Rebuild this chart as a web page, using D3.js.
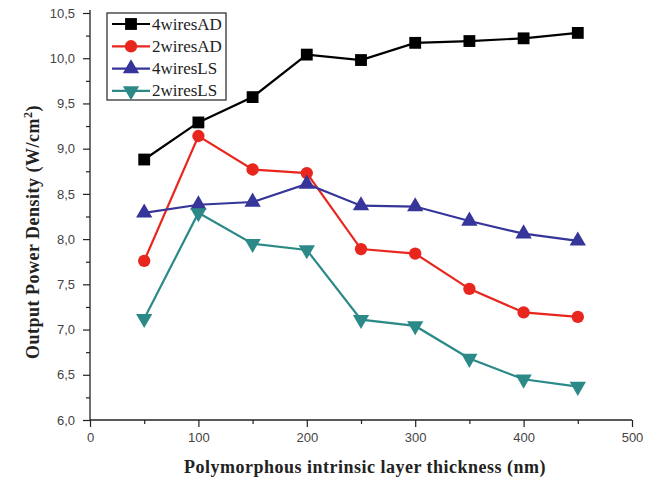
<!DOCTYPE html>
<html><head><meta charset="utf-8">
<script src="https://cdn.jsdelivr.net/npm/d3@7"></script>
<style>body{margin:0;background:#fff}svg{display:block}</style>
</head><body>
<svg id="c" width="665" height="482"></svg>
<script>
const thickness = [50, 100, 150, 200, 250, 300, 350, 400, 450];
const wires4AD = [8.88, 9.29, 9.57, 10.04, 9.98, 10.17, 10.19, 10.22, 10.28];
const wires2AD = [7.76, 9.14, 8.77, 8.73, 7.89, 7.84, 7.45, 7.19, 7.14];
const wires4LS = [8.29, 8.38, 8.41, 8.61, 8.37, 8.36, 8.20, 8.06, 7.98];
const wires2LS = [7.12, 8.29, 7.95, 7.88, 7.11, 7.04, 6.68, 6.45, 6.37];
const seriesNames = ["4wiresAD", "2wiresAD", "4wiresLS", "2wiresLS"];
const xTicks = [0, 100, 200, 300, 400, 500];
const yTicks = [6.0, 6.5, 7.0, 7.5, 8.0, 8.5, 9.0, 9.5, 10.0, 10.5];

const series = [
  {name: seriesNames[0], values: wires4AD, color: "#000000", sym: d3.symbolSquare, size: 140, rot: 0},
  {name: seriesNames[1], values: wires2AD, color: "#e8261e", sym: d3.symbolCircle, size: 120, rot: 0},
  {name: seriesNames[2], values: wires4LS, color: "#35359a", sym: d3.symbolTriangle, size: 115, rot: 0},
  {name: seriesNames[3], values: wires2LS, color: "#2b8a88", sym: d3.symbolTriangle, size: 115, rot: 180}
];

const svg = d3.select("#c");
const x = d3.scaleLinear().domain([0, 500]).range([90, 632]);
const y = d3.scaleLinear().domain([6.0, 10.5]).range([420, 13]);
const fmt = d => d3.format(".1f")(d).replace(".", ",");

// x axis
const xAxis = d3.axisBottom(x).tickValues(xTicks).tickSize(7).tickPadding(6).tickFormat(d3.format("d"));
const gx = svg.append("g").attr("transform", "translate(0,420)").call(xAxis);
gx.select(".domain").attr("stroke", "#222").attr("stroke-width", 1.3).attr("d", `M${x(0)},0H${x(500)}`);
gx.selectAll(".tick line").attr("stroke", "#222").attr("stroke-width", 1.2);
gx.selectAll("text").attr("font-family", "Liberation Sans, Arial, sans-serif").attr("font-size", 13).attr("fill", "#444");
svg.append("g").attr("transform", "translate(0,420)")
  .call(d3.axisBottom(x).tickValues(d3.range(50, 500, 100)).tickSize(4).tickFormat(""))
  .call(g => { g.select(".domain").remove(); g.selectAll("line").attr("stroke", "#222").attr("stroke-width", 1.2); });

// y axis
const yAxis = d3.axisLeft(y).tickValues(yTicks).tickSize(7).tickPadding(8).tickFormat(fmt);
const gy = svg.append("g").attr("transform", "translate(90,0)").call(yAxis);
gy.select(".domain").attr("stroke", "#222").attr("stroke-width", 1.3).attr("d", `M0,${y(6.0)}V${y(10.5) - 3}`);
gy.selectAll(".tick line").attr("stroke", "#222").attr("stroke-width", 1.2);
gy.selectAll("text").attr("font-family", "Liberation Sans, Arial, sans-serif").attr("font-size", 13).attr("fill", "#444");
svg.append("g").attr("transform", "translate(90,0)")
  .call(d3.axisLeft(y).tickValues(d3.range(6.25, 10.5, 0.5)).tickSize(4).tickFormat(""))
  .call(g => { g.select(".domain").remove(); g.selectAll("line").attr("stroke", "#222").attr("stroke-width", 1.2); });

// axis titles
svg.append("text").attr("x", 365).attr("y", 473).attr("text-anchor", "middle")
  .attr("font-family", "Liberation Serif, Times New Roman, serif").attr("font-weight", "bold").attr("font-size", 18)
  .attr("letter-spacing", 0.5).attr("fill", "#222").text("Polymorphous intrinsic layer thickness (nm)");
const yl = svg.append("text").attr("transform", "translate(39,232) rotate(-90)").attr("text-anchor", "middle")
  .attr("font-family", "Liberation Serif, Times New Roman, serif").attr("font-weight", "bold").attr("font-size", 18)
  .attr("letter-spacing", 0.5).attr("fill", "#222");
yl.append("tspan").text("Output Power Density (W/cm");
yl.append("tspan").attr("font-size", 12).attr("dy", -7).text("2");
yl.append("tspan").attr("dy", 7).text(")");

// lines and markers
const line = d3.line().x((d, i) => x(thickness[i])).y(d => y(d));
series.forEach(s => {
  svg.append("path").datum(s.values).attr("d", line).attr("fill", "none")
    .attr("stroke", s.color).attr("stroke-width", 2.2);
  svg.append("g").selectAll("path").data(s.values).join("path")
    .attr("d", d3.symbol().type(s.sym).size(s.size))
    .attr("transform", (d, i) => `translate(${x(thickness[i])},${y(d)}) rotate(${s.rot})`)
    .attr("fill", s.color);
});

// legend
const lg = svg.append("g");
lg.append("rect").attr("x", 107).attr("y", 13).attr("width", 119).attr("height", 87)
  .attr("fill", "#fff").attr("stroke", "#333").attr("stroke-width", 1.3);
series.forEach((s, i) => {
  const cy = 24 + i * 22.3;
  lg.append("line").attr("x1", 112).attr("x2", 150).attr("y1", cy).attr("y2", cy)
    .attr("stroke", s.color).attr("stroke-width", 2.2);
  lg.append("path").attr("d", d3.symbol().type(s.sym).size(s.size))
    .attr("transform", `translate(131,${cy}) rotate(${s.rot})`).attr("fill", s.color);
  lg.append("text").attr("x", 152).attr("y", cy + 5.5)
    .attr("font-family", "Liberation Serif, Times New Roman, serif").attr("font-size", 17)
    .attr("fill", "#222").text(s.name);
});
</script>
</body></html>
